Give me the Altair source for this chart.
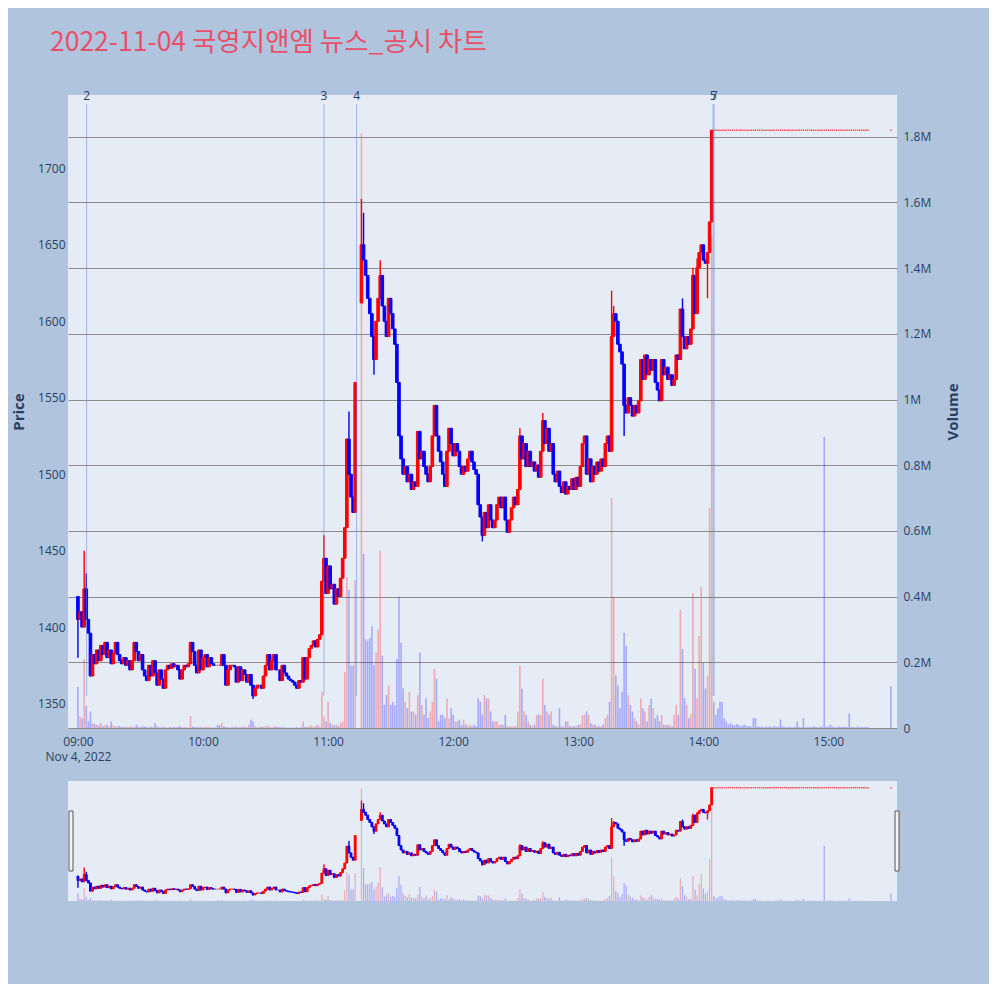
import pandas as pd
import altair as alt

# ==============================
#   DATA (1-minute candles)
# ==============================
TITLE = "2022-11-04 국영지앤엠 뉴스_공시 차트"
SESSION_START = pd.Timestamp("2022-11-04 09:00")

first_open = 1420
# close per minute from 09:00 (None = trading halt / VI)
closes = [
    1405, 1410, 1400, 1425, 1405, 1396, 1368, 1382, 1376, 1385,
    1378, 1388, 1382, 1390, 1380, 1385, 1376, 1383, 1390, 1382,
    1378, 1376, 1380, 1375, 1378, 1372, 1378, 1390, 1384, 1378,
    1382, 1372, 1368, 1365, 1375, 1368, 1378, 1370, 1362, 1372,
    1366, 1360, 1372, 1375, 1373, 1376, 1374, 1375, 1372, 1366,
    1372, 1375, 1374, 1376, 1390, 1384, 1375, 1370, 1385, 1372,
    1380, 1382, 1374, 1380, 1376, 1375, 1375, 1375, 1375, 1382,
    1375, 1362, 1372, 1375, 1375, 1374, 1364, 1374, 1365, 1372,
    1369, 1364, 1369, 1362, 1355, 1360, 1362, 1362, 1360, 1368,
    1375, 1382, 1372, 1378, 1382, 1372, 1372, 1365, 1375, 1370,
    1368, 1366, 1365, 1364, 1362, 1360, 1365, 1364, 1380, 1366,
    1380, 1386, 1388, 1391, 1387, 1392, 1395, 1430, 1445, 1422,
    1440, 1425, 1428, 1415, 1425, 1420, 1432, 1445, 1465, 1523,
    1500, 1485, 1475, 1560, None, None, 1650, 1640, 1630, 1615,
    1605, 1590, 1575, 1600, 1615, 1630, 1610, 1600, 1590, 1615,
    1605, 1595, 1585, 1560, 1525, 1510, 1500, 1505, 1495, 1500,
    1490, 1495, 1492, 1528, 1510, 1515, 1505, 1500, 1495, 1505,
    1525, 1545, 1525, 1515, 1508, 1500, 1492, 1515, 1530, 1520,
    1512, 1520, 1515, 1505, 1500, 1505, 1502, 1510, 1515, 1508,
    1503, 1500, 1480, 1472, 1460, 1475, 1465, 1480, 1470, 1465,
    1470, 1480, 1485, 1478, 1485, 1470, 1462, 1470, 1478, 1485,
    1480, 1490, 1525, 1510, 1520, 1505, 1515, 1505, 1508, 1502,
    1506, 1498, 1515, 1535, 1520, 1530, 1515, 1520, 1500, 1495,
    1502, 1492, 1488, 1495, 1487, 1492, 1490, 1497, 1490, 1498,
    1492, 1505, 1520, 1525, 1500, 1510, 1495, 1505, 1500, 1508,
    1502, 1510, 1505, 1520, 1525, 1515, 1590, 1605, 1600, 1585,
    1580, 1572, 1545, 1540, 1550, 1545, 1538, 1545, 1540, 1548,
    1575, 1562, 1578, 1565, 1575, 1568, 1575, 1560, 1555, 1548,
    1575, 1565, 1570, 1562, 1565, 1558, 1562, 1578, 1575, 1608,
    1590, 1582, 1590, 1585, 1595, 1630, 1605, 1635, 1645, 1650,
    1640, 1638, 1645, 1665, 1725,
]
# wicks that stick out of the body (minute index -> price)
high_wicks = {3: 1450, 4: 1435, 118: 1460, 130: 1541, 136: 1680, 137: 1671,
              145: 1640, 212: 1530, 223: 1540, 256: 1620, 257: 1610,
              290: 1615, 295: 1635, 297: 1641}
low_wicks = {0: 1380, 84: 1353, 142: 1565, 194: 1456, 262: 1525, 302: 1615}
gap_opens = {136: 1612}  # re-open after the halt

# volume per minute, thousands of shares
volumes_k = [
    125, 35, 30, 210, 67, 20, 50, 15, 12, 10,
    8, 15, 6, 8, 10, 5, 20, 8, 5, 4,
    6, 3, 5, 2, 4, 3, 5, 3, 10, 4,
    3, 5, 4, 3, 2, 4, 3, 15, 5, 3,
    2, 4, 3, 2, 3, 2, 4, 2, 3, 5,
    2, 3, 2, 2, 37, 5, 3, 2, 4, 3,
    2, 3, 2, 3, 2, 1, 2, 10, 8, 15,
    5, 3, 4, 2, 3, 2, 4, 3, 2, 5,
    3, 2, 10, 25, 20, 6, 3, 2, 4, 3,
    5, 8, 3, 2, 5, 4, 3, 2, 3, 2,
    1, 1, 1, 1, 1, 2, 1, 2, 20, 3,
    4, 5, 8, 3, 5, 10, 5, 110, 35, 20,
    80, 15, 10, 8, 10, 6, 15, 20, 170, 460,
    420, 190, 190, 450, 0, 0, 1810, 530, 270, 265,
    275, 310, 190, 230, 300, 540, 220, 70, 100, 130,
    70, 80, 70, 210, 400, 260, 120, 80, 60, 110,
    50, 50, 40, 100, 230, 70, 40, 90, 30, 50,
    80, 180, 150, 20, 40, 40, 30, 90, 30, 60,
    40, 20, 20, 25, 10, 25, 10, 5, 10, 5,
    10, 5, 90, 80, 40, 100, 90, 90, 50, 20,
    20, 20, 10, 10, 10, 40, 5, 5, 5, 5,
    5, 50, 190, 120, 50, 40, 20, 10, 5, 10,
    40, 40, 40, 150, 70, 50, 40, 50, 10, 5,
    5, 60, 5, 5, 20, 20, 5, 5, 5, 5,
    10, 10, 40, 40, 50, 40, 15, 10, 10, 5,
    5, 5, 10, 30, 40, 80, 700, 400, 160, 130,
    60, 110, 290, 250, 100, 70, 50, 30, 20, 10,
    90, 60, 50, 20, 70, 90, 60, 30, 40, 20,
    40, 10, 10, 10, 10, 5, 40, 70, 40, 360,
    240, 90, 70, 30, 40, 410, 180, 90, 280, 430,
    200, 120, 160, 670, 1500,
]

# after 14:05 the stock sits at the upper limit
limit_price = 1725
tail_volumes_k = [
    80, 40, 60, 80, 80, 30, 20, 10, 15, 10,
    8, 12, 10, 5, 8, 10, 5, 6, 4, 30,
    30, 5, 3, 5, 2, 4, 3, 5, 2, 6,
    3, 4, 25, 5, 3, 2, 4, 3, 2, 3,
    20, 4, 3, 30, 3, 2, 4, 3, 5, 3,
    2, 3, 4, 886, 3, 5, 10, 4, 3, 2,
    5, 3, 4, 3, 2, 45, 4, 3, 2, 5,
    2, 3, 2, 3, 2,
]
closing_minute = 390
closing_volume_k = 127

news_times = ["2022-11-04T09:04:10", "2022-11-04T10:58:00", "2022-11-04T11:13:40",
              "2022-11-04T14:04:40", "2022-11-04T14:05:10"]
news_labels = ["2", "3", "4", "5", "7"]

price_ticks = [1350, 1400, 1450, 1500, 1550, 1600, 1650, 1700]
volume_ticks = [0, 200000, 400000, 600000, 800000, 1000000, 1200000, 1400000, 1600000, 1800000]

RED, BLUE = "#FF0000", "#0000FF"

# ==============================
#   BUILD TABLE
# ==============================
rows = []
prev_close = first_open


def add_row(minute, o, c, vol_k, hi=None, lo=None):
    hi = max(o, c) if hi is None else hi
    lo = min(o, c) if lo is None else lo
    rows.append({
        "t": (SESSION_START + pd.Timedelta(minutes=minute)).strftime("%Y-%m-%dT%H:%M:%S"),
        "open": o, "close": c, "high": hi, "low": lo,
        "volume": vol_k * 1000,
        "ccol": BLUE if c < o else RED,
        "vcol": RED if c > o else BLUE,
    })


for m, c in enumerate(closes):
    if c is None:
        continue
    o = first_open if m == 0 else gap_opens.get(m, prev_close)
    add_row(m, o, c, volumes_k[m], high_wicks.get(m), low_wicks.get(m))
    prev_close = c

for k, v in enumerate(tail_volumes_k):
    add_row(len(closes) + k, limit_price, limit_price, v)
add_row(closing_minute, limit_price, limit_price, closing_volume_k)

df = pd.DataFrame(rows)
news_df = pd.DataFrame({"t": news_times, "label": news_labels})

# ==============================
#   SCALES / AXES
# ==============================
x_scale = alt.Scale(domain=[
    alt.DateTime(year=2022, month=11, date=4, hours=8, minutes=57, seconds=38),
    alt.DateTime(year=2022, month=11, date=4, hours=15, minutes=30, seconds=30),
])
price_scale = alt.Scale(domain=[1334, 1748], nice=False, zero=False)
vol_scale = alt.Scale(domain=[0, 1927000], nice=False)

x_axis = alt.Axis(
    values=[alt.DateTime(year=2022, month=11, date=4, hours=h) for h in range(9, 16)],
    labelExpr="hours(datum.value) == 9 ? ['09:00', 'Nov 4, 2022'] : timeFormat(datum.value, '%H:%M')",
    labelPadding=8, labelLineHeight=15, labelFlush=False, labelOverlap=False,
    grid=False, title=None,
)
price_axis = alt.Axis(
    title="Price", orient="left", values=price_ticks, format="d",
    gridColor="white", gridWidth=1, labelPadding=3, titlePadding=11,
)
vol_axis = alt.Axis(
    title="Volume", orient="right", values=volume_ticks,
    labelExpr="datum.value == 0 ? '0' : format(datum.value / 1000000, '.1~f') + 'M'",
    gridColor="#8c8c8c", gridWidth=1, labelPadding=6, titlePadding=30, titleAngle=270,
)


def candle_layers(axis_x, axis_p, axis_v, body_size, vol_size):
    X = alt.X("t:T", scale=x_scale, axis=axis_x)
    vol = alt.Chart(df).mark_bar(size=vol_size, opacity=0.28).encode(
        x=X,
        y=alt.Y("volume:Q", scale=vol_scale, axis=axis_v),
        color=alt.Color("vcol:N", scale=None),
    )
    wick = alt.Chart(df).mark_rule(strokeWidth=1.4).encode(
        x=X,
        y=alt.Y("low:Q", scale=price_scale, axis=axis_p),
        y2="high:Q",
        color=alt.Color("ccol:N", scale=None),
    )
    body = alt.Chart(df).transform_filter("datum.open != datum.close").mark_bar(
        size=body_size, strokeWidth=1
    ).encode(
        x=X,
        y=alt.Y("open:Q", scale=price_scale, axis=axis_p),
        y2="close:Q",
        color=alt.Color("ccol:N", scale=None),
        stroke=alt.Color("ccol:N", scale=None),
    )
    flat = alt.Chart(df).transform_filter("datum.open == datum.close").mark_tick(
        orient="horizontal", size=1.4, thickness=1.5, color=RED
    ).encode(
        x=X,
        y=alt.Y("close:Q", scale=price_scale, axis=axis_p),
    )
    return vol, [wick, body, flat], X


# ==============================
#   MAIN PANEL
# ==============================
vol, price_marks, X = candle_layers(x_axis, price_axis, vol_axis, 2.6, 1.6)

news_lines = alt.Chart(news_df).mark_rule(color="#5A7FE0", opacity=0.5, strokeWidth=1).encode(
    x=X, y=alt.value(9), y2=alt.value(601)
)
news_text = alt.Chart(news_df).mark_text(fontSize=12, color="#2a3f5f", baseline="middle").encode(
    x=X, y=alt.value(1), text="label:N"
)

main = alt.layer(
    vol, alt.layer(*price_marks, news_lines, news_text)
).resolve_scale(y="independent").properties(width=829, height=633)

# ==============================
#   RANGE SLIDER
# ==============================
vol_s, price_s, _ = candle_layers(None, None, None, 1.8, 1.2)


def grip(x0):
    return alt.Chart(pd.DataFrame({"grip": [x0]})).mark_rect(
        fill="#f4f4f4", stroke="#555", strokeWidth=1
    ).encode(x=alt.value(x0), x2=alt.value(x0 + 4), y=alt.value(30), y2=alt.value(90))


slider = alt.layer(
    vol_s, alt.layer(*price_s), grip(1), grip(827)
).resolve_scale(y="independent").properties(width=829, height=120)

chart = alt.vconcat(main, slider, spacing=19).properties(
    title=alt.TitleParams(
        TITLE, anchor="start", frame="group", font="Noto Sans CJK KR",
        fontSize=26.5, fontWeight="normal", color="#E8506A", dx=-18, offset=34,
    ),
    padding={"left": 3, "top": 21, "right": 28, "bottom": 83},
).configure(
    background="#B0C4DE", font="Open Sans"
).configure_view(
    fill="#E5ECF6", stroke=None
).configure_axis(
    domain=False, ticks=False, labelColor="#2a3f5f", labelFontSize=12,
    titleColor="#2a3f5f", titleFontSize=15, titleFontWeight="bold",
)

chart.save("out.html", embed_options={"renderer": "svg", "actions": False})
